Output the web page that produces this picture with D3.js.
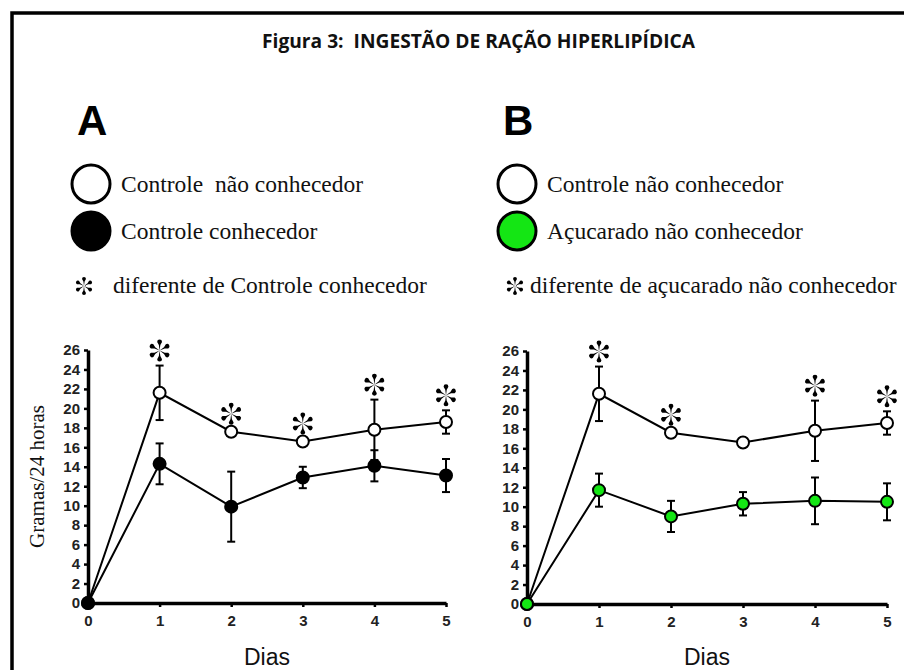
<!DOCTYPE html>
<html>
<head>
<meta charset="utf-8">
<script src="https://cdn.jsdelivr.net/npm/d3@7"></script>
<style>
  body { margin: 0; background: #fff; }
</style>
</head>
<body>
<script>
// Data (grams / 24 h, mean and error)
var days = [0, 1, 2, 3, 4, 5];
var yTicks = [0, 2, 4, 6, 8, 10, 12, 14, 16, 18, 20, 22, 24, 26];

var controleNaoMean = [0, 21.6, 17.6, 16.6, 17.8, 18.6];
var controleNaoErr  = [0, 2.8, 0.3, 0.3, 3.1, 1.2];

var controleConhMean = [0, 14.3, 9.9, 12.9, 14.1, 13.1];
var controleConhErr  = [0, 2.1, 3.6, 1.1, 1.6, 1.7];

var acucaradoMean = [0, 11.7, 9.0, 10.3, 10.6, 10.5];
var acucaradoErr  = [0, 1.7, 1.6, 1.2, 2.4, 1.9];

// days marked with an asterisk
var sigA = [1, 2, 3, 4, 5];
var sigB = [1, 2, 4, 5];

var width = 904;
var height = 670;
var green = '#14e614';

var svg = d3.select('body')
    .append('svg')
    .attr('width', width)
    .attr('height', height);

// frame (only top and left edges are inside the picture)
svg.append('rect')
    .attr('x', 12).attr('y', 13)
    .attr('width', 1000).attr('height', 1000)
    .attr('fill', 'none')
    .attr('stroke', '#000')
    .attr('stroke-width', 3.5);

// title
svg.append('text')
    .attr('x', 262)
    .attr('y', 48)
    .attr('font-family', '"Open Sans", sans-serif')
    .attr('font-weight', 'bold')
    .attr('font-size', 20)
    .attr('textLength', 433)
    .attr('lengthAdjust', 'spacingAndGlyphs')
    .attr('fill', '#111')
    .style('white-space', 'pre')
    .text('Figura 3:  INGESTÃO DE RAÇÃO HIPERLIPÍDICA');

// six-petal asterisk, centred on (x, y)
function asterisk(g, x, y, R) {
    var w = R * 0.22;
    var p = 'M0,0 L' + (-w * 0.3) + ',' + (-R * 0.5) +
        ' L' + (-w) + ',' + (-R + w) +
        ' A' + w + ',' + w + ' 0 0 1 ' + w + ',' + (-R + w) +
        ' L' + (w * 0.3) + ',' + (-R * 0.5) + ' Z';
    var star = g.append('g').attr('transform', 'translate(' + x + ',' + y + ')');
    [0, 60, 120, 180, 240, 300].forEach(function(a) {
        star.append('path')
            .attr('d', p)
            .attr('transform', 'rotate(' + a + ')')
            .attr('fill', '#000');
    });
}

// legend block for each panel
function legend(x0, letter, items, note, starX, noteX) {
    var g = svg.append('g');
    g.append('text')
        .attr('x', x0 - 14)
        .attr('y', 135)
        .attr('font-family', '"Liberation Sans", Arial, sans-serif')
        .attr('font-weight', 'bold')
        .attr('font-size', 42)
        .text(letter);

    items.forEach(function(it, i) {
        var cy = 184 + i * 47;
        g.append('circle')
            .attr('cx', x0).attr('cy', cy)
            .attr('r', 19)
            .attr('fill', it.fill)
            .attr('stroke', '#000')
            .attr('stroke-width', 3);
        g.append('text')
            .attr('x', x0 + 30)
            .attr('y', cy + 7.5)
            .attr('font-family', '"Liberation Serif", "Times New Roman", serif')
            .attr('font-size', 23.5)
            .attr('fill', '#111')
            .style('white-space', 'pre')
            .text(it.label);
    });

    asterisk(g, starX, 286, 9);
    g.append('text')
        .attr('x', noteX)
        .attr('y', 292.5)
        .attr('font-family', '"Liberation Serif", "Times New Roman", serif')
        .attr('font-size', 23.5)
        .attr('fill', '#111')
        .text(note);
}

legend(91, 'A',
    [{fill: '#fff', label: 'Controle  não conhecedor'},
     {fill: '#000', label: 'Controle conhecedor'}],
    'diferente de Controle conhecedor', 84, 113);

legend(517, 'B',
    [{fill: '#fff', label: 'Controle não conhecedor'},
     {fill: green, label: 'Açucarado não conhecedor'}],
    'diferente de açucarado não conhecedor', 515, 530);

function styleAxis(a) {
    a.select('.domain').attr('stroke', '#000').attr('stroke-width', 3.5);
    a.selectAll('.tick line').attr('stroke', '#000').attr('stroke-width', 2.5);
    a.selectAll('.tick text')
        .attr('font-family', '"Liberation Sans", Arial, sans-serif')
        .attr('font-weight', 'bold')
        .attr('font-size', 15)
        .attr('fill', '#222');
}

// one panel
function panel(x0, x1, y0, y1, seriesList, sig, yLabel) {
    var g = svg.append('g');

    var xScale = d3.scaleLinear().domain([0, 5]).range([x0, x1]);
    var yScale = d3.scaleLinear().domain([0, 26]).range([y0, y1]);

    var xAxis = d3.axisBottom(xScale)
        .tickValues(days)
        .tickSize(4)
        .tickSizeOuter(0)
        .tickPadding(8)
        .tickFormat(d3.format('d'));
    g.append('g')
        .attr('transform', 'translate(0,' + y0 + ')')
        .call(xAxis)
        .call(styleAxis);

    var yAxis = d3.axisLeft(yScale)
        .tickValues(yTicks)
        .tickSize(4)
        .tickSizeOuter(0)
        .tickPadding(4);
    g.append('g')
        .attr('transform', 'translate(' + x0 + ',0)')
        .call(yAxis)
        .call(styleAxis);

    // x axis title
    g.append('text')
        .attr('x', (x0 + x1) / 2)
        .attr('y', 665)
        .attr('text-anchor', 'middle')
        .attr('font-family', '"Liberation Sans", Arial, sans-serif')
        .attr('font-size', 23)
        .attr('fill', '#111')
        .text('Dias');

    if (yLabel) {
        g.append('text')
            .attr('transform', 'translate(' + (x0 - 44) + ',' + ((y0 + y1) / 2) + ') rotate(-90)')
            .attr('text-anchor', 'middle')
            .attr('font-family', '"Liberation Serif", "Times New Roman", serif')
            .attr('font-size', 21)
            .attr('fill', '#111')
            .text(yLabel);
    }

    var line = d3.line()
        .x(function(d, i) { return xScale(days[i]); })
        .y(function(d) { return yScale(d); });

    seriesList.forEach(function(s) {
        g.append('path')
            .datum(s.mean)
            .attr('d', line)
            .attr('fill', 'none')
            .attr('stroke', '#000')
            .attr('stroke-width', 2);

        var eb = g.selectAll(null)
            .data(days.slice(1))
            .enter()
            .append('g');
        eb.append('line')
            .attr('x1', function(d) { return xScale(d); })
            .attr('x2', function(d) { return xScale(d); })
            .attr('y1', function(d) { return yScale(s.mean[d] - s.err[d]); })
            .attr('y2', function(d) { return yScale(s.mean[d] + s.err[d]); })
            .attr('stroke', '#000')
            .attr('stroke-width', 2);
        [-1, 1].forEach(function(sign) {
            eb.append('line')
                .attr('x1', function(d) { return xScale(d) - 4; })
                .attr('x2', function(d) { return xScale(d) + 4; })
                .attr('y1', function(d) { return yScale(s.mean[d] + sign * s.err[d]); })
                .attr('y2', function(d) { return yScale(s.mean[d] + sign * s.err[d]); })
                .attr('stroke', '#000')
                .attr('stroke-width', 2);
        });
    });

    seriesList.forEach(function(s) {
        g.selectAll(null)
            .data(s.mean)
            .enter()
            .append('circle')
            .attr('cx', function(d, i) { return xScale(days[i]); })
            .attr('cy', function(d) { return yScale(d); })
            .attr('r', 6)
            .attr('fill', s.fill)
            .attr('stroke', '#000')
            .attr('stroke-width', 2);
    });

    // significance stars above the upper series
    var top = seriesList[0];
    sig.forEach(function(d) {
        asterisk(g, xScale(d), yScale(top.mean[d] + top.err[d]) - 15, 11);
    });
}

panel(88, 446, 603, 350,
    [{mean: controleNaoMean, err: controleNaoErr, fill: '#fff'},
     {mean: controleConhMean, err: controleConhErr, fill: '#000'}],
    sigA, 'Gramas/24 horas');

panel(527, 887, 604, 351,
    [{mean: controleNaoMean, err: controleNaoErr, fill: '#fff'},
     {mean: acucaradoMean, err: acucaradoErr, fill: green}],
    sigB, null);
</script>
</body>
</html>
